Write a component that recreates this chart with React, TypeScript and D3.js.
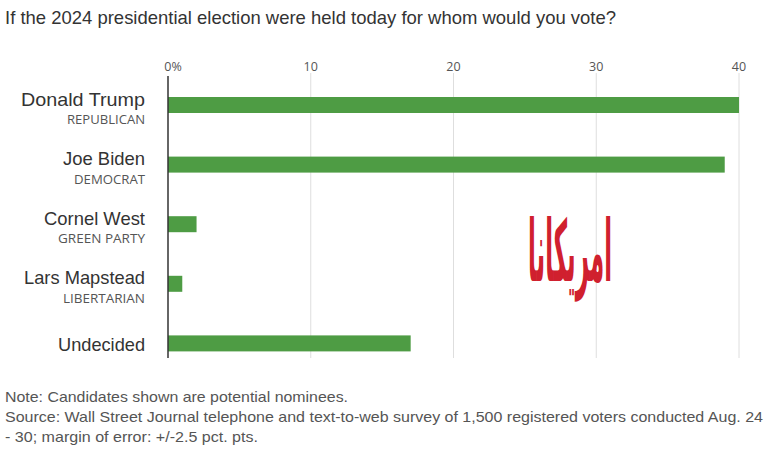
import React from "react";
import * as d3 from "d3";

const candidates = ["Donald Trump", "Joe Biden", "Cornel West", "Lars Mapstead", "Undecided"];
const parties = ["REPUBLICAN", "DEMOCRAT", "GREEN PARTY", "LIBERTARIAN", ""];
const values = [40, 39, 2, 1, 17];
const tickValues = [0, 10, 20, 30, 40];
const tickLabels = ["0%", "10", "20", "30", "40"];
const title = "If the 2024 presidential election were held today for whom would you vote?";
const notes = [
  "Note: Candidates shown are potential nominees.",
  "Source: Wall Street Journal telephone and text-to-web survey of 1,500 registered voters conducted Aug. 24",
  "- 30; margin of error: +/-2.5 pct. pts.",
];
const logoText = "امريكانا";

const W = 768;
const H = 460;
const GREEN = "#4e9c44";

export default function App() {
  const x = d3.scaleLinear().domain([0, 40]).range([168, 739]);
  // rows with a party label are taller than the plain "Undecided" row
  const weights = parties.map((p) => (p ? 1 : 0.71));
  const starts = [0, ...Array.from(d3.cumsum(weights))];
  const y = d3.scaleLinear().domain([0, 1]).range([105, 164.6]);
  const rowCenter = (i: number) => y(starts[i]);
  const barH = 16;

  const nameWidths = [124, 82, 101, 121, 87];
  const partyWidths = [78, 71, 87, 82, 0];
  const noteWidths = [343, 758, 253];

  return (
    <svg width={W} height={H} style={{ position: "absolute", left: 0, top: 0, background: "#fff" }}>
      <rect width={W} height={H} fill="#fff" />
      <text x={5} y={24} fontFamily="Liberation Sans, Arial, sans-serif" fontSize={18.5} fill="#333"
        textLength={611} lengthAdjust="spacingAndGlyphs">{title}</text>

      {tickValues.map((t, i) => (
        <g key={t}>
          {t !== 0 && (
            <line x1={x(t)} x2={x(t)} y1={73} y2={358} stroke="#dedede" strokeWidth={1} />
          )}
          <text x={x(t) + (t === 0 ? 5 : 0)} y={71} textAnchor="middle"
            fontFamily="Open Sans, Noto Sans, sans-serif" fontSize={12.5} fill="#555">{tickLabels[i]}</text>
        </g>
      ))}

      {values.map((v, i) => {
        const cy = rowCenter(i);
        return (
          <g key={candidates[i]}>
            <rect x={x(0)} y={cy - barH / 2} width={x(v) - x(0)} height={barH} fill={GREEN} />
            <text x={145} y={parties[i] ? cy + 0.5 : cy + 8} textAnchor="end"
              fontFamily="Liberation Sans, Arial, sans-serif" fontSize={18.5} fill="#333"
              textLength={nameWidths[i]} lengthAdjust="spacingAndGlyphs">{candidates[i]}</text>
            {parties[i] && (
              <text x={145} y={cy + 19} textAnchor="end"
                fontFamily="Open Sans, Noto Sans, sans-serif" fontSize={12.5} fill="#555"
                textLength={partyWidths[i]} lengthAdjust="spacingAndGlyphs">{parties[i]}</text>
            )}
          </g>
        );
      })}

      <line x1={x(0)} x2={x(0)} y1={76} y2={358} stroke="#333" strokeWidth={1.5} />

      <g transform="translate(570,281) scale(1,2.5)">
        <text x={0} y={0} textAnchor="middle" fontFamily="DejaVu Sans, sans-serif" fontWeight="bold"
          fontSize={34} fill="#d0202e" textLength={84} lengthAdjust="spacingAndGlyphs">{logoText}</text>
      </g>

      {notes.map((n, i) => (
        <text key={i} x={5} y={402 + i * 20} fontFamily="Liberation Sans, Arial, sans-serif" fontSize={14.5}
          fill="#555" textLength={noteWidths[i]} lengthAdjust="spacingAndGlyphs">{n}</text>
      ))}
    </svg>
  );
}
